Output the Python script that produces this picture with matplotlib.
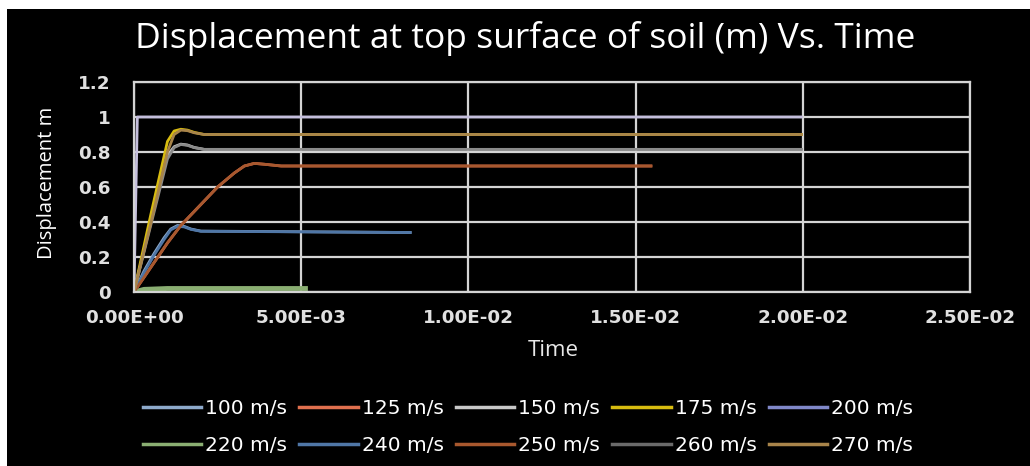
import matplotlib
matplotlib.use("Agg")
import matplotlib.pyplot as plt
from matplotlib.patches import Rectangle

title = "Displacement at top surface of soil (m) Vs. Time"
x_label = "Time"
y_label = "Displacement m"
x_ticks = [0.0, 0.005, 0.010, 0.015, 0.020, 0.025]
x_tick_labels = ["0.00E+00", "5.00E-03", "1.00E-02", "1.50E-02", "2.00E-02", "2.50E-02"]
y_ticks = [0, 0.2, 0.4, 0.6, 0.8, 1.0, 1.2]
y_tick_labels = ["0", "0.2", "0.4", "0.6", "0.8", "1", "1.2"]

# series (time, displacement)
t_100 = [0, 0.0003, 0.0006, 0.0009, 0.0011, 0.0013, 0.0015, 0.0017, 0.0020, 0.0083]
d_100 = [0, 0.12, 0.22, 0.31, 0.36, 0.38, 0.375, 0.36, 0.348, 0.34]
t_125 = [0, 0.0005, 0.0010, 0.0014, 0.0020, 0.0025, 0.0030, 0.0033, 0.0036, 0.0039, 0.0044, 0.0155]
d_125 = [0, 0.14, 0.28, 0.38, 0.50, 0.60, 0.68, 0.72, 0.735, 0.73, 0.72, 0.72]
t_150 = [0, 0.0005, 0.0010, 0.0012, 0.0014, 0.0016, 0.0018, 0.0021, 0.0200]
d_150 = [0, 0.40, 0.78, 0.83, 0.845, 0.84, 0.826, 0.815, 0.815]
t_175 = [0, 0.0005, 0.0010, 0.0012, 0.0014, 0.0016, 0.0018, 0.0021, 0.0200]
d_175 = [0, 0.44, 0.86, 0.92, 0.93, 0.925, 0.912, 0.90, 0.90]
t_200 = [0, 0.0001, 0.0200]
d_200 = [0, 1.0, 1.0]
t_220 = [0, 0.0003, 0.0010, 0.0052]
d_220 = [0, 0.015, 0.02, 0.02]
t_240 = [0, 0.0003, 0.0006, 0.0009, 0.0011, 0.0013, 0.0015, 0.0017, 0.0020, 0.0083]
d_240 = [0, 0.11, 0.21, 0.30, 0.355, 0.375, 0.372, 0.358, 0.347, 0.34]
t_250 = [0, 0.0005, 0.0010, 0.0014, 0.0020, 0.0025, 0.0030, 0.0033, 0.0036, 0.0039, 0.0044, 0.0155]
d_250 = [0, 0.14, 0.28, 0.38, 0.50, 0.60, 0.68, 0.72, 0.735, 0.73, 0.72, 0.72]
t_260 = [0, 0.0005, 0.0010, 0.0012, 0.0014, 0.0016, 0.0018, 0.0021, 0.0200]
d_260 = [0, 0.38, 0.76, 0.825, 0.843, 0.838, 0.825, 0.815, 0.815]
t_270 = [0, 0.0005, 0.0010, 0.0012, 0.0014, 0.0016, 0.0018, 0.0021, 0.0200]
d_270 = [0, 0.39, 0.80, 0.90, 0.925, 0.922, 0.91, 0.90, 0.90]

labels = ["100 m/s", "125 m/s", "150 m/s", "175 m/s", "200 m/s",
          "220 m/s", "240 m/s", "250 m/s", "260 m/s", "270 m/s"]
colors = ["#8eaacb", "#e0704e", "#c8c8c8", "#d8bc10", "#8088c8",
          "#8aae72", "#4f76a6", "#a8582e", "#6a6a6a", "#a8844a"]
plot_colors = ["#8eaacb", "#e0704e", "#c8c8c8", "#d8bc10", "#c4bedc",
               "#8aae72", "#4f76a6", "#a8582e", "#8a8a8a", "#a8844a"]
series = [(t_100, d_100), (t_125, d_125), (t_150, d_150), (t_175, d_175), (t_200, d_200),
          (t_220, d_220), (t_240, d_240), (t_250, d_250), (t_260, d_260), (t_270, d_270)]
widths = [2.0, 2.0, 2.0, 2.0, 2.0, 3.5, 2.0, 2.0, 2.0, 2.0]

W, H = 1030, 466
fig = plt.figure(figsize=(W / 100, H / 100), dpi=100, facecolor="white")
bg = Rectangle((7 / W, 0), 1 - 7 / W, 1 - 9 / H, transform=fig.transFigure,
               facecolor="black", edgecolor="none", zorder=-10)
fig.add_artist(bg)

ax = fig.add_axes([134 / W, 1 - 292 / H, (970 - 134) / W, (292 - 82) / H])
ax.set_facecolor("black")
ax.set_xlim(0, 0.025)
ax.set_ylim(0, 1.2)

grid_c = "#d4d4d4"
ax.grid(True, color=grid_c, linewidth=1.6, zorder=1)
ax.set_axisbelow(True)
for s in ax.spines.values():
    s.set_color(grid_c)
    s.set_linewidth(1.6)
    s.set_zorder(4)

handles = []
for (t, d), lab, c, pc, lw in zip(series, labels, colors, plot_colors, widths):
    ax.plot(t, d, color=pc, linewidth=lw, zorder=3, solid_capstyle="butt",
            solid_joinstyle="round")
    h, = ax.plot([], [], color=c, linewidth=2.5, label=lab)
    handles.append(h)

ax.set_xticks(x_ticks)
ax.set_xticklabels(x_tick_labels)
ax.set_yticks(y_ticks)
ax.set_yticklabels(y_tick_labels)
ax.tick_params(length=0, colors="#e0e0e0", labelsize=13.2)
ax.tick_params(axis="x", pad=12)
ax.tick_params(axis="y", pad=17)
for lbl in ax.get_xticklabels() + ax.get_yticklabels():
    lbl.set_fontweight("bold")
    lbl.set_family("DejaVu Sans")

fig.text(525 / W, 1 - 39 / H, title, ha="center", va="center", color="white",
         fontsize=25.5, family="Open Sans")
fig.text(553 / W, 1 - 351 / H, x_label, ha="center", va="center", color="#e8e8e8",
         fontsize=16, family="Open Sans")
fig.text(47 / W, 1 - 183 / H, y_label, ha="center", va="center", color="white",
         fontsize=14.5, rotation=90, family="Open Sans")

# row-wise legend order (matplotlib fills columns first)
order = [0, 5, 1, 6, 2, 7, 3, 8, 4, 9]
leg = fig.legend(handles=[handles[i] for i in order], labels=[labels[i] for i in order],
                 loc="center", ncol=5,
                 bbox_to_anchor=(528 / W, 1 - 427 / H), frameon=False,
                 prop={"family": "DejaVu Sans", "size": 14.5},
                 labelcolor="white",
                 handlelength=2.9, handletextpad=0.2, columnspacing=0.6,
                 labelspacing=0.85)

fig.savefig("out.png", dpi=100, facecolor="white")
